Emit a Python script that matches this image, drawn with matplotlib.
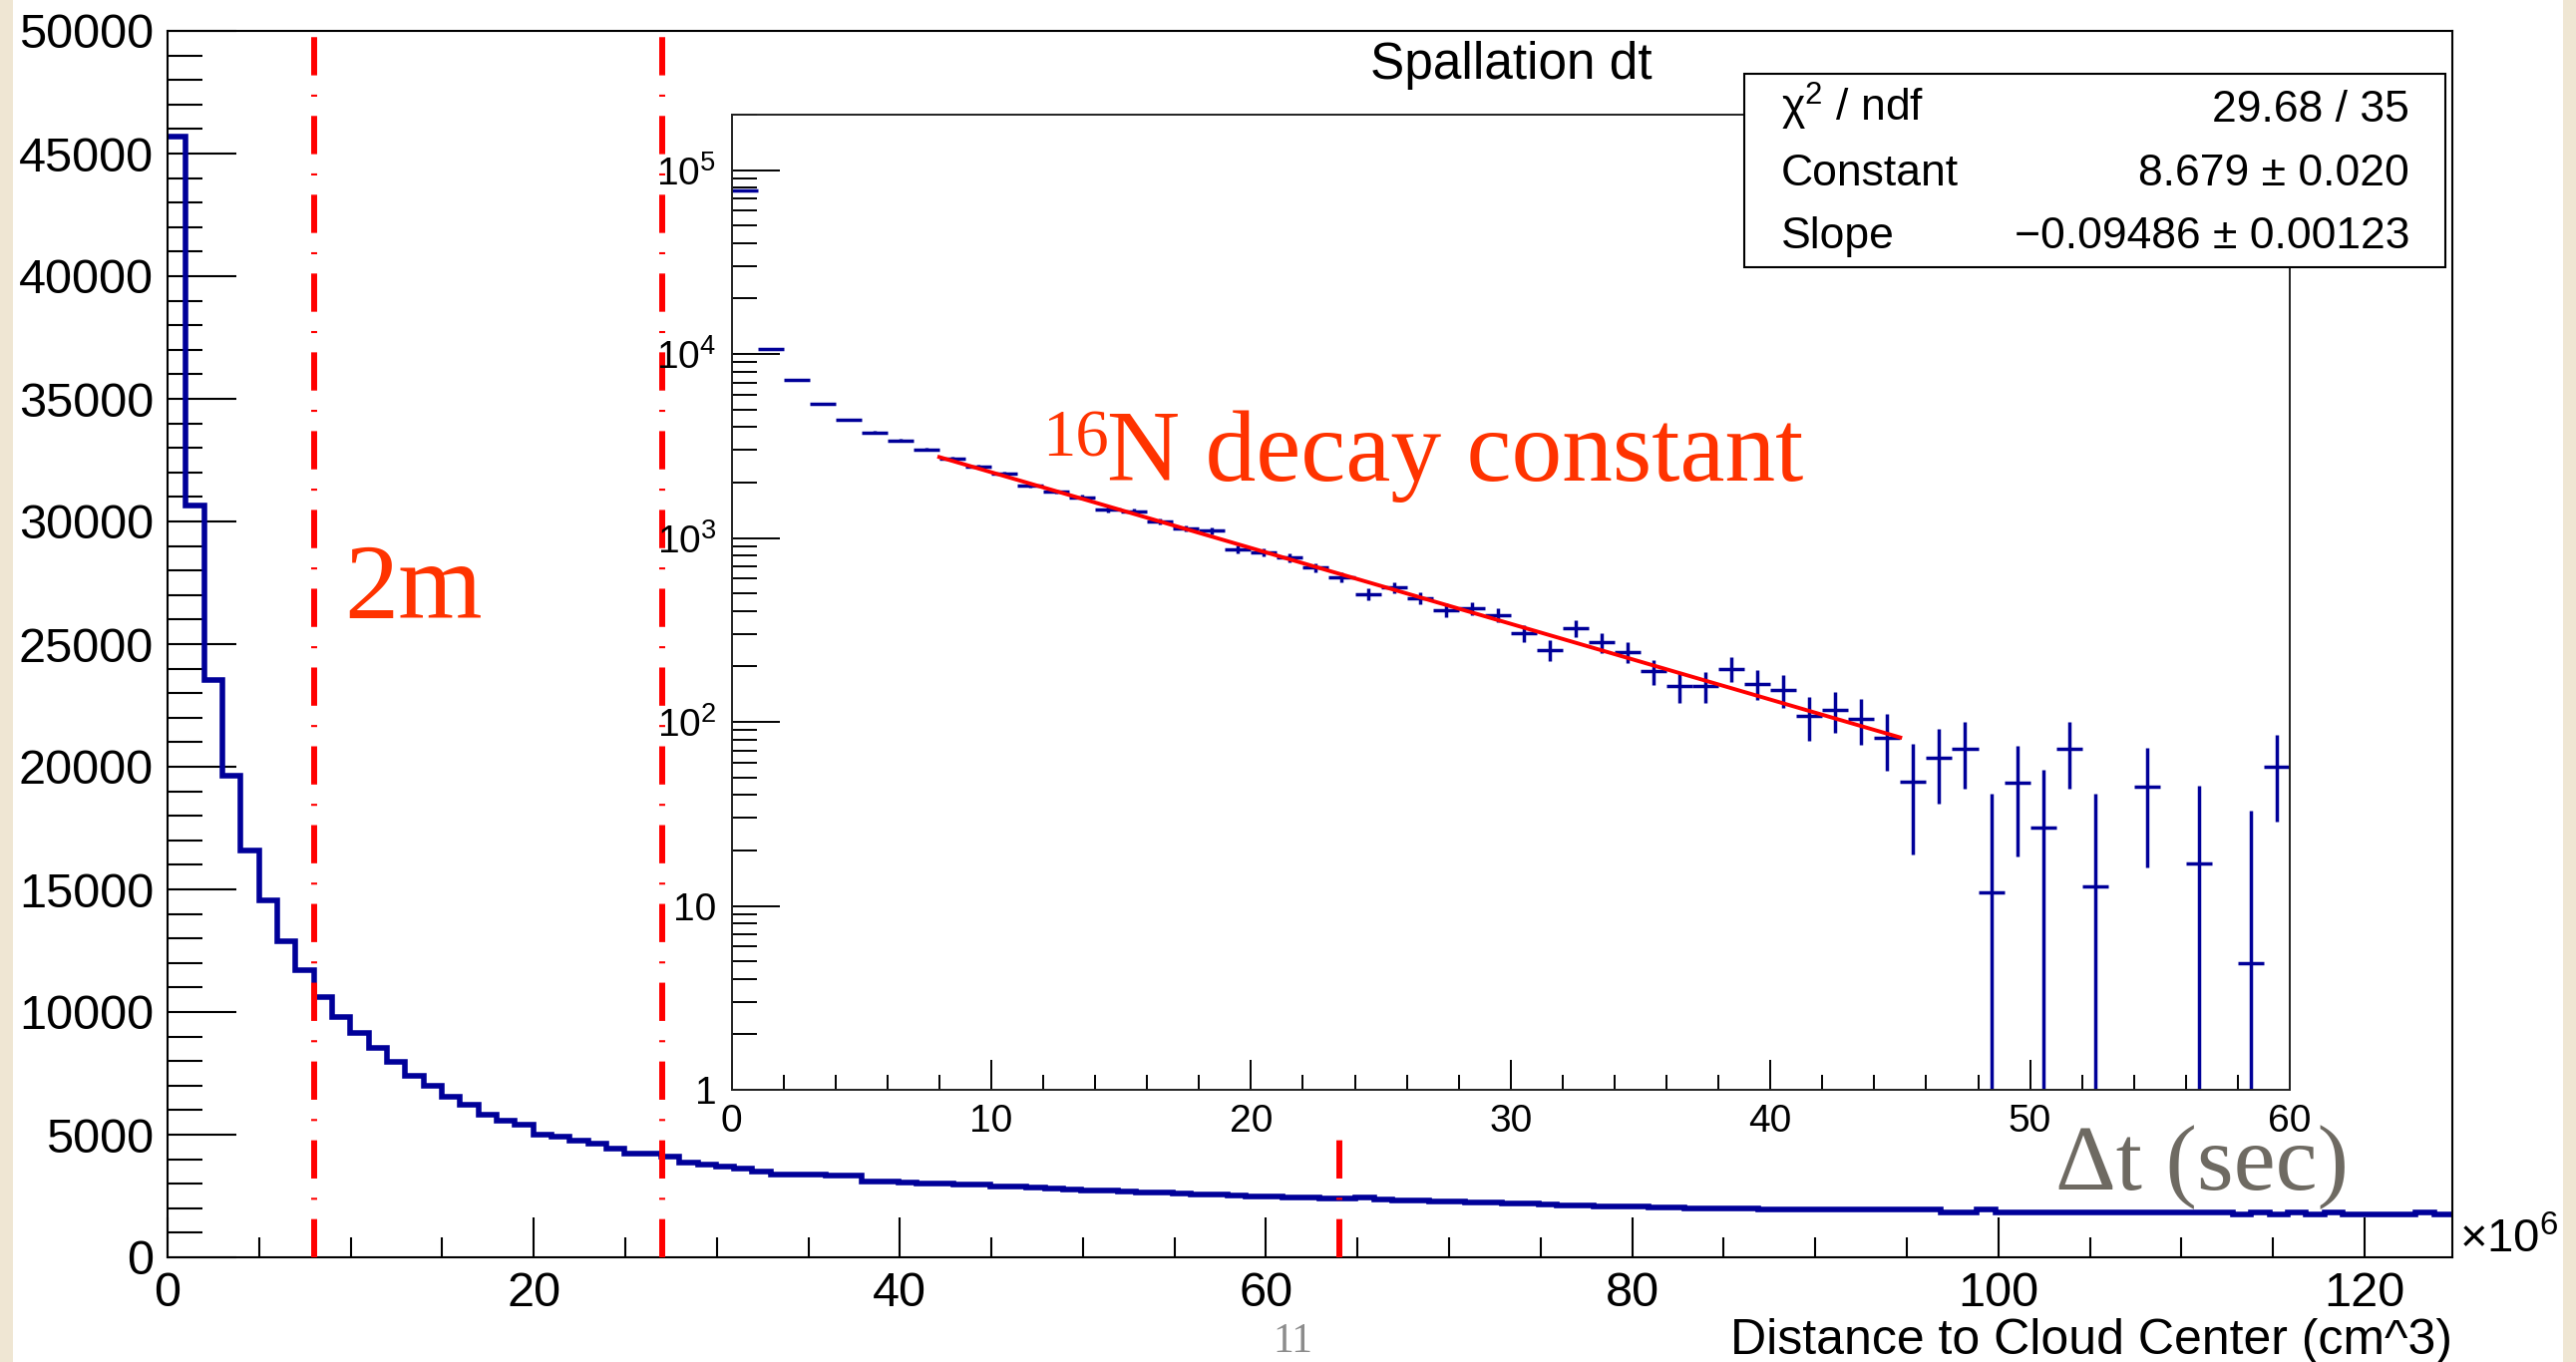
import numpy as np
import matplotlib
matplotlib.use('Agg')
import matplotlib.pyplot as plt
from matplotlib.patches import Rectangle
from matplotlib.ticker import (MultipleLocator, FixedLocator, FixedFormatter,
                               LogLocator, NullFormatter, StrMethodFormatter)

plt.rcParams['font.family'] = ['Liberation Sans', 'DejaVu Sans']
plt.rcParams['mathtext.fontset'] = 'custom'
plt.rcParams['mathtext.rm'] = 'Liberation Sans'
plt.rcParams['mathtext.it'] = 'Liberation Sans:italic'
plt.rcParams['lines.scale_dashes'] = False

W, H = 2583, 1366
NAVY = '#000099'
RED = '#ff0000'
ANNOT = '#ff3300'

# --- main histogram: distance to cloud center (x10^6 cm^3), 125 bins ---
vol_range = (0, 124.8)
vol_counts = [
    45700, 30670, 23520, 19650, 16570, 14540, 12870, 11690, 10630, 9780,
    9160, 8530, 7960, 7380, 6980, 6540, 6200, 5820, 5550, 5390,
    5010, 4910, 4740, 4640, 4440, 4240, 4240, 4100, 3870, 3800,
    3700, 3600, 3490, 3380, 3380, 3380, 3320, 3320, 3090, 3090,
    3060, 3020, 3000, 2960, 2950, 2900, 2880, 2830, 2800, 2780,
    2740, 2720, 2690, 2660, 2640, 2600, 2580, 2560, 2540, 2500,
    2480, 2450, 2430, 2400, 2380, 2450, 2360, 2330, 2310, 2290,
    2270, 2250, 2230, 2200, 2180, 2160, 2130, 2110, 2090, 2070,
    2060, 2040, 2030, 2010, 2000, 1990, 1980, 1970, 1960, 1950,
    1950, 1940, 1940, 1935, 1935, 1935, 1935, 1840, 1840, 1935,
    1840, 1840, 1840, 1840, 1840, 1840, 1840, 1840, 1840, 1840,
    1840, 1840, 1840, 1733, 1840, 1733, 1840, 1733, 1840, 1733,
    1733, 1733, 1733, 1840, 1733,
]
cut_x = [8, 27, 64]
cut_top = [50000, 50000, 5000]

# --- inset: spallation dt (sec), 1 s bins ---
dt_range = (0, 60)
dt_counts = [
    77400, 10700, 7210, 5340, 4400, 3750, 3380, 3030, 2690, 2450,
    2245, 1925, 1787, 1663, 1426, 1390, 1232, 1130, 1094, 869,
    834, 781, 689, 611, 496, 539, 470, 406, 415, 382,
    304, 246, 323, 270, 239, 188, 156, 156, 194, 161,
    149, 108, 116, 104, 82, 47.5, 64, 71.4, 11.9, 46.5,
    26.8, 71.4, 12.8, np.nan, 44.2, np.nan, 17, np.nan, 4.9, 56.8,
]
dt_errors = [
    280, 105, 90, 78, 72, 68, 65, 62, 59, 57,
    55, 52, 50, 49, 47, 47, 45, 44, 43, 41,
    40, 40, 39, 38, 36, 37, 36, 35, 35, 34,
    33, 32, 33, 32, 31, 30, 30, 30, 30, 30,
    30, 29, 29, 29, 28, 28.5, 28, 28, 28.8, 28,
    28, 28, 28, 0, 28, 0, 28, 0, 28, 28,
]
fit_const, fit_slope = 8.679, -0.09486
fit_range = (8, 45)

stat_labels = ['χ$^{2}$ / ndf', 'Constant', 'Slope']
stat_values = ['29.68 / 35', '8.679 ± 0.020', '\u22120.09486 ± 0.00123']


def fx(px):
    return px / W


def fy(py):
    return 1 - py / H


fig = plt.figure(figsize=(W / 100, H / 100), dpi=100)
fig.patch.set_facecolor('white')

# paper edges
for x0 in (0, 2570):
    fig.add_artist(Rectangle((fx(x0), 0), fx(13), 1, transform=fig.transFigure,
                             facecolor='#efe6d3', edgecolor='none', zorder=0))

# ---------------- main axes ----------------
ax = fig.add_axes([fx(168), fy(1261), fx(2459 - 168), (1261 - 31) / H])
edges = np.linspace(vol_range[0], vol_range[1], len(vol_counts) + 1)
ax.stairs(vol_counts, edges, baseline=None, color=NAVY, linewidth=4, zorder=2)

for x, top in zip(cut_x, cut_top):
    ax.plot([x, x], [0, top], color=RED, linewidth=4.3, zorder=3,
            linestyle=(0, (27.6, 13.9, 1.5, 13.9)), solid_capstyle='butt')

ax.set_xlim(*vol_range)
ax.set_ylim(0, 50000)
ax.xaxis.set_major_locator(MultipleLocator(20))
ax.xaxis.set_minor_locator(MultipleLocator(5))
ax.yaxis.set_major_locator(MultipleLocator(5000))
ax.yaxis.set_minor_locator(MultipleLocator(1000))
ax.xaxis.set_major_formatter(StrMethodFormatter('{x:.0f}'))
ax.yaxis.set_major_formatter(StrMethodFormatter('{x:.0f}'))
ax.tick_params(axis='y', which='major', direction='in', length=50, width=1.5,
               labelsize=35, pad=10, right=False)
ax.tick_params(axis='y', which='minor', direction='in', length=25, width=1.5, right=False)
ax.tick_params(axis='x', which='major', direction='in', length=29, width=1.5,
               labelsize=35, pad=10, top=False)
ax.tick_params(axis='x', which='minor', direction='in', length=14.5, width=1.5, top=False)
for s in ax.spines.values():
    s.set_linewidth(1.5)
ax.set_xlabel('Distance to Cloud Center (cm^3)', fontsize=36, loc='right')
ax.xaxis.set_label_coords(1.0, -(1322 - 1261) / 1230)

# ---------------- inset ----------------
ins = fig.add_axes([fx(733.5), fy(1093), fx(2296 - 733.5), (1093 - 115) / H])
ins.set_facecolor('white')
ins.set_zorder(5)
centers = np.arange(dt_range[0], dt_range[1]) + 0.5
vals = np.array(dt_counts, dtype=float)
errs = np.array(dt_errors, dtype=float)
ok = ~np.isnan(vals)
lo = np.minimum(errs[ok], vals[ok] * 0.999)
ins.errorbar(centers[ok], vals[ok], yerr=[lo, errs[ok]], xerr=0.5, fmt='none',
             ecolor=NAVY, elinewidth=2.5, capsize=0, zorder=2)
xs = np.linspace(fit_range[0], fit_range[1], 200)
ins.plot(xs, np.exp(fit_const + fit_slope * xs), color=RED, linewidth=2.8, zorder=3)

ins.set_yscale('log')
ins.set_xlim(*dt_range)
ins.set_ylim(1, 2e5)
ins.xaxis.set_major_locator(MultipleLocator(10))
ins.xaxis.set_minor_locator(MultipleLocator(2))
ins.xaxis.set_major_formatter(StrMethodFormatter('{x:.0f}'))
ins.yaxis.set_major_locator(FixedLocator([1, 10, 1e2, 1e3, 1e4, 1e5]))
ins.yaxis.set_major_formatter(FixedFormatter(['1', '10', '$10^{2}$', '$10^{3}$',
                                              '$10^{4}$', '$10^{5}$']))
ins.yaxis.set_minor_locator(LogLocator(base=10, subs=np.arange(2, 10)))
ins.yaxis.set_minor_formatter(NullFormatter())
ins.tick_params(axis='y', which='major', direction='in', length=34.6, width=1.4,
                labelsize=28, pad=11, right=False)
ins.tick_params(axis='y', which='minor', direction='in', length=18, width=1.4, right=False)
ins.tick_params(axis='x', which='major', direction='in', length=21.6, width=1.4,
                labelsize=28, pad=10, top=False)
ins.tick_params(axis='x', which='minor', direction='in', length=10.8, width=1.4, top=False)
for s in ins.spines.values():
    s.set_linewidth(1.4)
    s.set_color('#222222')

fig.text(fx(1515), fy(66), 'Spallation dt', ha='center', va='center', fontsize=37)

# stats box
fig.add_artist(Rectangle((fx(1749), fy(268)), fx(703), 194 / H, transform=fig.transFigure,
                         facecolor='white', edgecolor='black', linewidth=1.5, zorder=10))
for lab, val, base in zip(stat_labels, stat_values, [122, 186, 249]):
    fig.text(fx(1786), fy(base), lab, ha='left', va='baseline', fontsize=32, zorder=11)
    fig.text(fx(2416), fy(base), val, ha='right', va='baseline', fontsize=32, zorder=11)

# annotations
serif = ['Liberation Serif', 'DejaVu Serif']
fig.text(fx(345), fy(620), '2m', family=serif, fontsize=78, color=ANNOT, va='baseline')
fig.text(fx(1045), fy(457), '16', family=serif, fontsize=48, color=ANNOT, va='baseline', zorder=12)
fig.text(fx(1110), fy(482), 'N decay constant', family=serif, fontsize=73, color=ANNOT,
         va='baseline', zorder=12)
fig.text(fx(2061), fy(1193), 'Δt (sec)', family=serif, fontsize=68, color='#6e6a62',
         va='baseline', zorder=12)
fig.text(fx(2466), fy(1256), '×10$^{6}$', fontsize=34, va='baseline')
fig.text(fx(1296), fy(1346), '11', family=serif, fontsize=30, color='#8c8c8c',
         ha='center', va='center')

fig.savefig('out.png', dpi=100, facecolor=fig.get_facecolor())
plt.close(fig)
